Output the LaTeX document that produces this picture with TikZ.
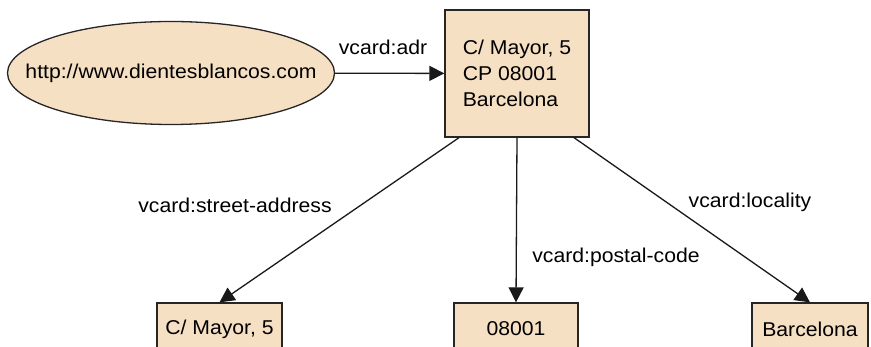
\documentclass[tikz,border=0pt]{standalone}
\usepackage{fontspec}
\setmainfont{Liberation Sans}[FakeStretch=1.06]
\usetikzlibrary{shapes.geometric,arrows.meta}
\definecolor{tan}{RGB}{246,224,195}

\begin{document}
\begin{tikzpicture}[x=1pt,y=-1pt,
    font=\fontsize{20}{26}\selectfont,
    res/.style={draw=black!85, line width=1.3pt, fill=tan, ellipse, inner xsep=-30pt, inner ysep=0pt},
    lit/.style={draw=black!85, line width=1.3pt, fill=tan, rectangle, inner sep=0pt},
    arr/.style={draw=black!90, line width=1.3pt, -{Triangle[length=15pt,width=15pt]}}]
    \clip (0,0) rectangle (871,347);
    \node[res, minimum width=327pt, minimum height=103pt] (web) at (171,73) {http://www.dientesblancos.com};
    \node[lit, minimum width=144pt, minimum height=127pt, align=left] (adr) at (517,73.5) {C/ Mayor, 5\\CP 08001\\Barcelona};
    \node[lit, minimum width=125pt, minimum height=52pt] (street) at (219.5,329) {C/ Mayor, 5};
    \node[lit, minimum width=124pt, minimum height=52pt] (code) at (516,329) {08001};
    \node[lit, minimum width=116pt, minimum height=52pt] (city) at (810,329) {Barcelona};

    \draw[arr] (web) -- (adr);
    \draw[arr] ([xshift=-58pt]adr.south) -- (street.north);
    \draw[arr] (adr.south) -- (code.north);
    \draw[arr] ([xshift=57pt]adr.south) -- (city.north);

    \node (ladr) at (383,47) {vcard:adr};
    \node (lstreet) at (235,205) {vcard:street-address};
    \node (lcode) at (616,257) {vcard:postal-code};
    \node (lcity) at (750,202) {vcard:locality};
\end{tikzpicture}
\end{document}
